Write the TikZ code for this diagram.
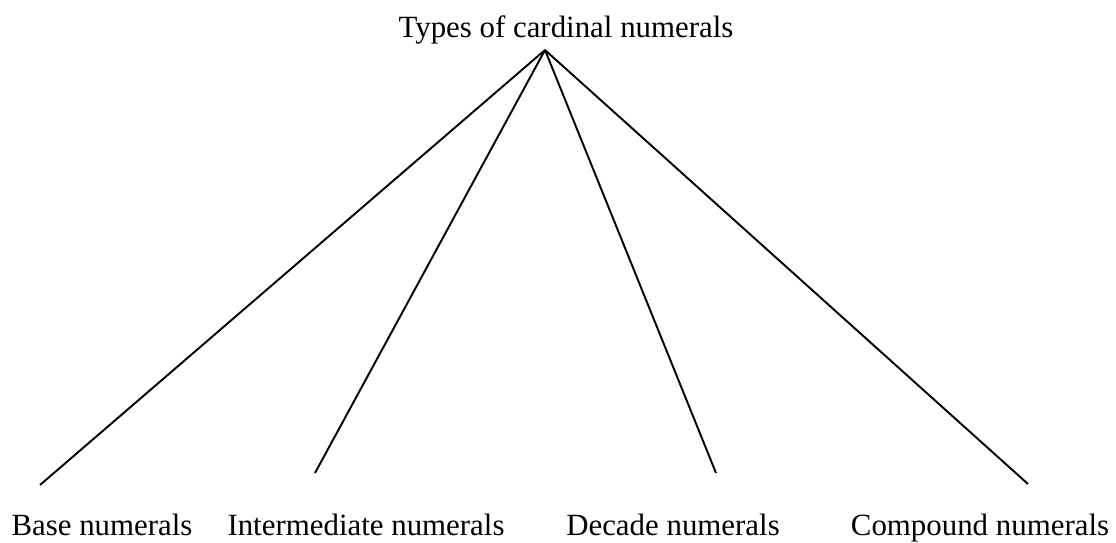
\documentclass[tikz,border=0pt]{standalone}
\usepackage{fontspec}
\setmainfont{Liberation Serif}
\begin{document}
\begin{tikzpicture}[x=0.013656cm, y=-0.013656cm, every node/.style={font=\fontsize{12}{14}\selectfont, inner sep=0pt, anchor=base}]
\useasboundingbox (0,0) rectangle (1116,542);
\node (top) at (566,37) {Types of cardinal numerals};
\node (b1) at (102,535) {Base numerals};
\node (b2) at (366,535) {Intermediate numerals};
\node (b3) at (673,535) {Decade numerals};
\node (b4) at (980,535) {Compound numerals};
\coordinate (hub) at (545,50);
\coordinate (e1) at (40,485);
\coordinate (e2) at (315,473);
\coordinate (e3) at (716,473);
\coordinate (e4) at (1028,484);
\draw[line width=0.75pt] (hub) -- (e1);
\draw[line width=0.75pt] (hub) -- (e2);
\draw[line width=0.75pt] (hub) -- (e3);
\draw[line width=0.75pt] (hub) -- (e4);
\end{tikzpicture}
\end{document}
